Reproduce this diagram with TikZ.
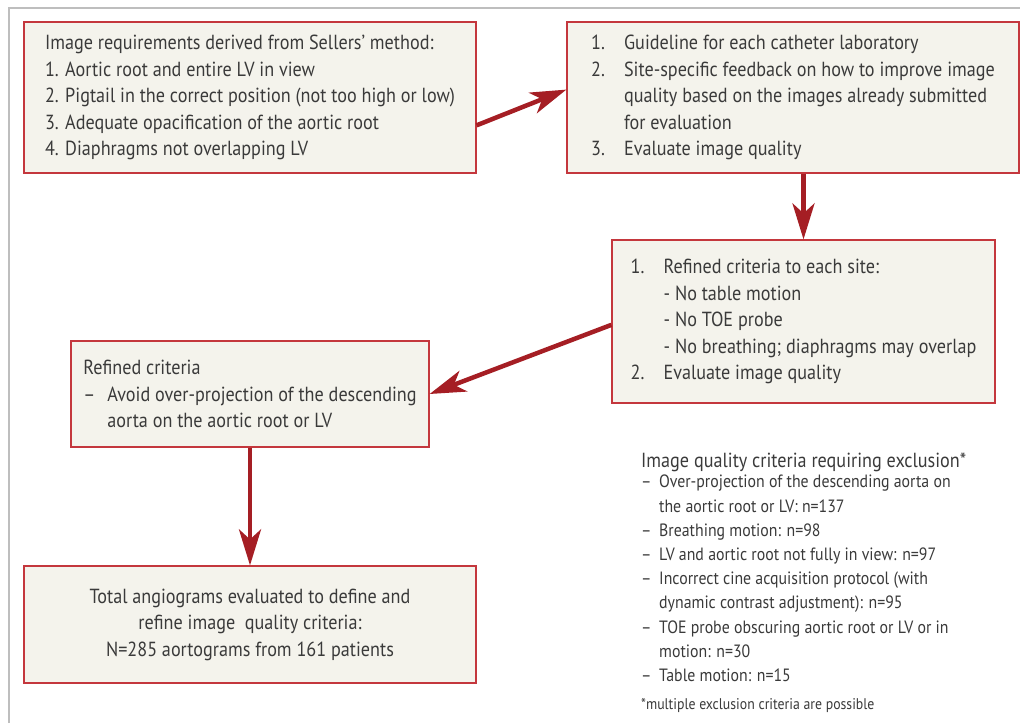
\documentclass[tikz,border=0pt]{standalone}
\usepackage{fontspec}
\setmainfont{PT Sans}[FakeStretch=0.89]
\usepackage{xcolor}
\usepackage{tikz}
\usetikzlibrary{arrows.meta}

\definecolor{boxred}{HTML}{C4373D}
\definecolor{boxfill}{HTML}{F4F3EC}
\definecolor{arrowred}{HTML}{A51E24}
\definecolor{textgray}{HTML}{3A3A3A}
\definecolor{framegray}{HTML}{BEBEBE}

\newcommand{\numlbl}[1]{\makebox[33pt][l]{#1}}

\tikzset{
  stage/.style={draw=boxred, fill=boxfill, line width=1.2pt, inner xsep=0pt, inner ysep=4pt,
    align=left, text=textgray, font=\fontsize{20.4}{26.5}\selectfont},
  flow/.style={draw=arrowred, line width=4.5pt, -{Stealth[length=36pt, width=22pt, inset=10pt]}},
  legendtext/.style={inner sep=0pt, text=textgray, align=left},
}

\begin{document}
\begin{tikzpicture}[x=1pt, y=-1pt]
        \useasboundingbox (0,0) rectangle (1020,723);
        \draw[framegray, line width=1.3pt] (9,723) -- (9,8) -- (1020,8);

        \node[stage, minimum width=452pt, minimum height=151pt] (sellers) at (250,97.5)
            {Image requirements derived from Sellers' method:\\
             1. Aortic root and entire LV in view\\
             2. Pigtail in the correct position (not too high or low)\\
             3. Adequate opacification of the aortic root\\
             4. Diaphragms not overlapping LV};
        \node[stage, minimum width=452pt, minimum height=151pt] (guide) at (793,97.5)
            {\numlbl{1.}Guideline for each catheter laboratory\\
             \numlbl{2.}Site-specific feedback on how to improve image\\
             \hspace*{33pt}quality based on the images already submitted\\
             \hspace*{33pt}for evaluation\\
             \numlbl{3.}Evaluate image quality};
        \node[stage, minimum width=383pt, minimum height=163pt] (site) at (803.5,321.5)
            {\numlbl{1.}Refined criteria to each site:\\
             \hspace*{33pt}- No table motion\\
             \hspace*{33pt}- No TOE probe\\
             \hspace*{33pt}- No breathing; diaphragms may overlap\\
             \numlbl{2.}Evaluate image quality};
        \node[stage, minimum width=358pt, minimum height=106pt] (refined) at (250,394)
            {Refined criteria\\
             \makebox[24pt][l]{–}Avoid over-projection of the descending\\
             \hspace*{24pt}aorta on the aortic root or LV};
        \node[stage, align=center, minimum width=452pt, minimum height=117pt] (total) at (250,624.5)
            {Total angiograms evaluated to define and\\
             refine image\ \ quality criteria:\\
             N=285 aortograms from 161 patients};

        \draw[flow] (sellers.-7.2) -- (guide.178.9);
        \draw[flow] (guide.south -| site.north) -- (site.north);
        \draw[flow] (site.181) -- (refined.0.3);
        \draw[flow] (refined.south) -- (total.north);

        \node[legendtext, anchor=base west, font=\fontsize{20.4}{24}\selectfont] (crithead) at (641,467)
            {Image quality criteria requiring exclusion*};
        \node[legendtext, anchor=north west, font=\fontsize{17.8}{24.2}\selectfont] (critlist) at (641,475)
            {\makebox[18pt][l]{–}Over-projection of the descending aorta on\\
             \hspace*{18pt}the aortic root or LV: n=137\\
             \makebox[18pt][l]{–}Breathing motion: n=98\\
             \makebox[18pt][l]{–}LV and aortic root not fully in view: n=97\\
             \makebox[18pt][l]{–}Incorrect cine acquisition protocol (with\\
             \hspace*{18pt}dynamic contrast adjustment): n=95\\
             \makebox[18pt][l]{–}TOE probe obscuring aortic root or LV or in\\
             \hspace*{18pt}motion: n=30\\
             \makebox[18pt][l]{–}Table motion: n=15};
        \node[legendtext, anchor=base west, font=\fontsize{15.5}{18}\selectfont] (critnote) at (641,709)
            {*multiple exclusion criteria are possible};
\end{tikzpicture}
\end{document}
